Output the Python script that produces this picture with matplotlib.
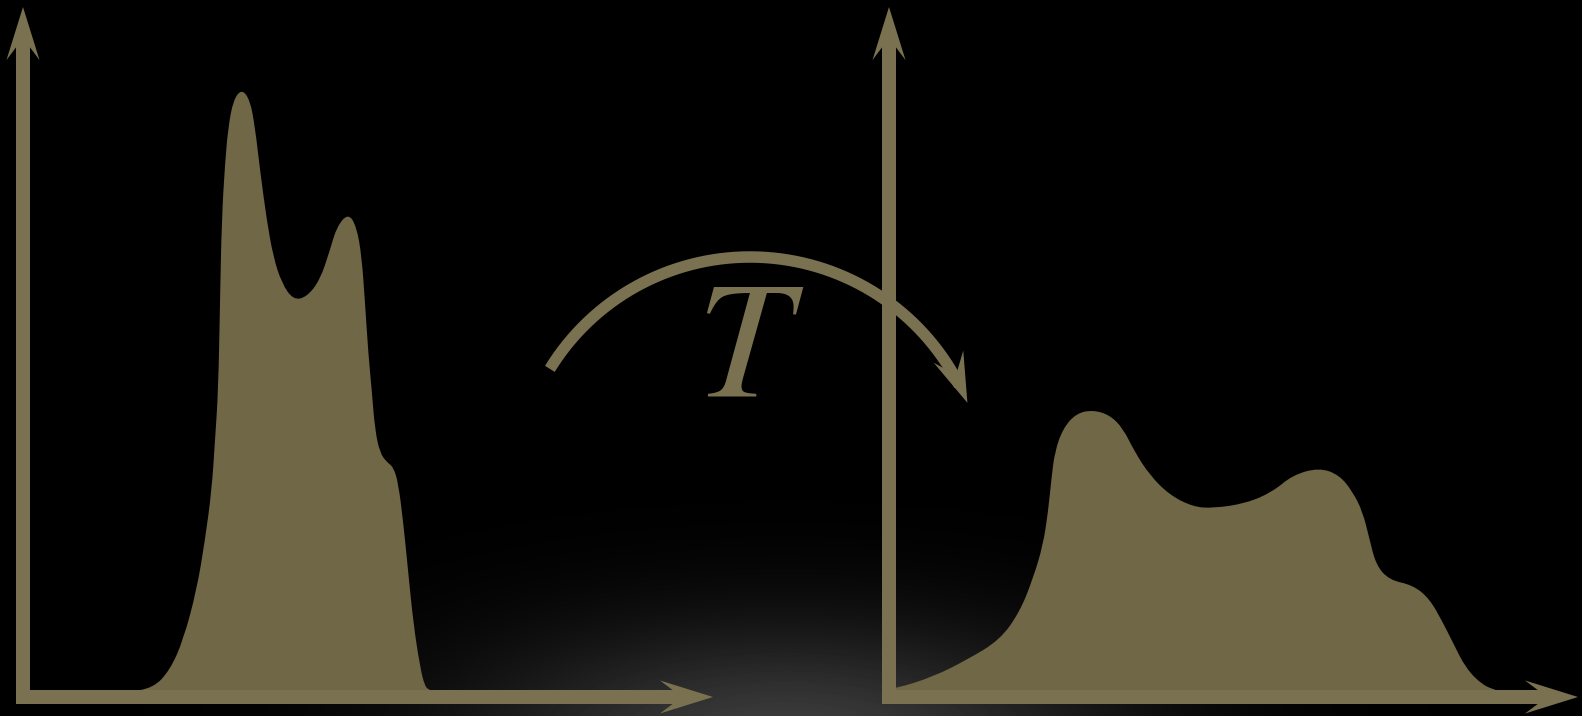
import numpy as np
import matplotlib
matplotlib.use("Agg")
import matplotlib.pyplot as plt
from matplotlib.patches import Polygon, PathPatch
from matplotlib.path import Path

plt.rcParams['mathtext.fontset'] = 'stix'

# histogram before the transform (x: intensity 0-100, y: count 0-100)
before_x = [16.96, 18.88, 21.30, 23.23, 25.17, 26.38, 27.35, 27.83, 28.30, 28.55, 28.80, 29.28,
            29.75, 30.48, 31.70, 32.90, 33.62, 34.35, 35.32, 36.28, 37.49, 39.17, 41.12, 43.04,
            44.49, 45.46, 47.14, 48.36, 49.09, 49.57, 50.04, 50.54, 51.01, 51.74, 52.71, 53.67,
            54.39, 55.12, 55.84, 56.57, 57.54, 58.26, 58.99]
before_y = [1.01, 1.30, 3.91, 8.26, 15.51, 22.75, 30.00, 37.25, 44.49, 57.10, 69.13, 77.39,
            82.61, 86.52, 88.12, 86.52, 82.61, 76.38, 69.13, 63.77, 60.00, 57.54, 57.97, 60.43,
            64.78, 68.12, 70.14, 68.12, 63.77, 57.10, 49.86, 44.49, 38.70, 35.36, 34.06, 33.33,
            31.01, 25.22, 17.97, 10.72, 4.35, 1.45, 1.01]

# histogram after the transform T
after_x = [0.00, 1.12, 6.42, 11.26, 16.09, 18.99, 20.91, 22.36, 23.09, 23.58, 24.06, 25.26,
           27.20, 29.61, 32.03, 33.96, 35.65, 37.83, 40.72, 44.10, 47.00, 51.84, 55.70, 58.59,
           62.46, 65.36, 67.29, 68.74, 69.71, 70.68, 72.61, 75.99, 78.41, 80.33, 81.78, 83.72,
           86.13, 88.07]
after_y = [1.16, 1.26, 2.94, 5.36, 8.26, 12.36, 17.20, 22.03, 26.86, 31.70, 35.55, 38.94,
           41.12, 41.59, 40.87, 38.94, 35.55, 32.17, 29.28, 27.58, 27.35, 28.07, 29.75, 32.17,
           33.23, 32.17, 29.75, 26.86, 23.00, 19.13, 16.96, 16.23, 14.30, 10.91, 8.01, 4.16,
           1.74, 1.01]

label = "$T$"

FILL = '#6f6746'
LINE = '#7a7150'
W, H = 1582, 716


def head(ax, tip, d, length, half, notch, **kw):
    # stealth style arrow head, d = unit direction of the arrow
    d = np.asarray(d, float)
    p = np.array([-d[1], d[0]])
    tip = np.asarray(tip, float)
    pts = [tip, tip - d * length + p * half, tip - d * notch, tip - d * length - p * half]
    ax.add_patch(Polygon(pts, closed=True, facecolor=LINE, edgecolor='none', **kw))


def smooth_area(xs, ys):
    # closed area under the points, edges drawn as quadratic curves through midpoints
    pts = list(zip(xs, ys))
    verts = [(xs[0], 0), pts[0]]
    codes = [Path.MOVETO, Path.LINETO]
    for i in range(1, len(pts) - 1):
        mx = (pts[i][0] + pts[i + 1][0]) / 2
        my = (pts[i][1] + pts[i + 1][1]) / 2
        verts += [pts[i], (mx, my)]
        codes += [Path.CURVE3, Path.CURVE3]
    verts += [pts[-1], (xs[-1], 0), (xs[0], 0)]
    codes += [Path.LINETO, Path.LINETO, Path.CLOSEPOLY]
    return Path(verts, codes)


def draw_hist(ax, xs, ys):
    ax.set_xlim(0, 100)
    ax.set_ylim(0, 100)
    ax.axis('off')
    ax.add_patch(PathPatch(smooth_area(xs, ys), facecolor=FILL, lw=0, zorder=1))
    lw = 14 * 72 / 100
    ax.plot([-1.0, 96.5], [0, 0], color=LINE, lw=lw, solid_capstyle='butt', clip_on=False, zorder=2)
    ax.plot([0, 0], [-1.0, 96.5], color=LINE, lw=lw, solid_capstyle='butt', clip_on=False, zorder=2)
    head(ax, (100, 0), (1, 0), 7.7, 2.4, 4.5, clip_on=False, zorder=3)
    head(ax, (0, 100), (0, 1), 7.7, 2.4, 4.5, clip_on=False, zorder=3)


fig = plt.figure(figsize=(W / 100, H / 100), dpi=100)
fig.patch.set_facecolor('black')

bg = fig.add_axes([0, 0, 1, 1])
bg.set_xlim(0, W)
bg.set_ylim(H, 0)
bg.axis('off')
bg.set_facecolor('black')

# soft glow at the bottom centre
gx, gy = np.meshgrid(np.arange(W), np.arange(H))
glow = 0.24 * np.exp(-((gx - 785) / 320.0) ** 2 - ((gy - 745) / 120.0) ** 2)
bg.imshow(glow, cmap='gray', vmin=0, vmax=1, extent=(0, W, H, 0), aspect='auto', zorder=0)

# curved transform arrow
cx, cy, R = 750, 492, 235
th = np.radians(np.linspace(148.4, 27.0, 200))
bg.plot(cx + R * np.cos(th), cy - R * np.sin(th), color=LINE, lw=11.5 * 72 / 100,
        solid_capstyle='butt', zorder=2)
t_tip = np.radians(22.3)
tip = (cx + R * np.cos(t_tip), cy - R * np.sin(t_tip))
d = (np.sin(t_tip), np.cos(t_tip))
head(bg, tip, d, 50, 16, 30, zorder=3)
bg.text(750, 397, label, color=LINE, fontsize=121, ha='center', va='baseline', zorder=3)

ax1 = fig.add_axes([23 / W, 19 / H, 690 / W, 690 / H])
ax1.patch.set_alpha(0)
draw_hist(ax1, before_x, before_y)

ax2 = fig.add_axes([889 / W, 19 / H, 689 / W, 690 / H])
ax2.patch.set_alpha(0)
draw_hist(ax2, after_x, after_y)

fig.savefig("out.png", dpi=100, facecolor='black')
